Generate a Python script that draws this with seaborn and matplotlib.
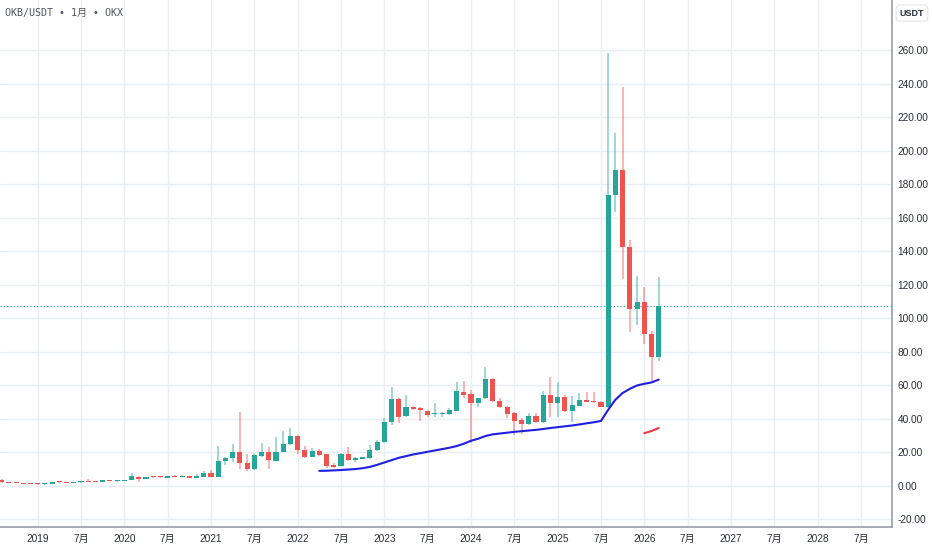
import numpy as np
import pandas as pd
import seaborn as sns
import matplotlib
import matplotlib.pyplot as plt
matplotlib.use('Agg')

# monthly candles, Aug 2018 .. Mar 2026 (month index 0 = Jan 2019)
months = list(range(-5, 87))
opens = [3.8, 2.2, 2.0, 1.6, 1.1, 0.95, 0.9, 1.0, 2.3, 2.1, 1.9, 2.1, 2.8, 2.5, 2.3, 3.3, 2.8,
         2.9, 3.5, 5.4, 4.2, 5.3, 5.2, 5.0, 5.8, 5.6, 6.0, 4.8, 5.6,
         7.6, 5.6, 15.0, 16.5, 20.5, 13.5, 10.1, 18.1, 20.5, 15.1, 20.5, 24.9,
         29.9, 21.5, 17.5, 21.1, 18.9, 12.5, 12.1, 18.9, 15.5, 16.1, 16.5, 21.5,
         26.1, 38.0, 51.7, 42.0, 47.4, 46.4, 44.8, 42.8, 43.0, 42.8, 45.0, 56.3,
         54.7, 49.4, 52.3, 63.7, 50.9, 47.4, 43.4, 39.4, 37.0, 41.8, 38.0, 54.3,
         49.4, 53.3, 45.0, 48.0, 51.3, 50.9, 50.3, 47.4, 173.7, 188.7, 142.9, 105.5,
         109.9, 90.7, 76.8]
highs = [3.9, 2.3, 2.1, 1.7, 1.2, 1.1, 1.1, 2.5, 2.8, 2.2, 2.2, 3.0, 4.2, 2.7, 3.4, 3.4, 3.0,
         3.6, 7.8, 6.2, 5.4, 5.6, 5.5, 6.0, 6.3, 6.3, 6.2, 7.0, 9.0,
         9.6, 23.7, 17.5, 24.9, 44.4, 18.9, 18.9, 25.5, 23.5, 29.1, 32.8, 34.4,
         30.5, 23.9, 22.9, 22.1, 19.3, 13.5, 19.7, 23.5, 17.5, 17.5, 24.5, 27.5,
         40.8, 58.9, 52.7, 54.3, 48.0, 47.4, 45.4, 49.4, 44.0, 46.4, 62.3, 62.7,
         57.3, 52.7, 71.2, 64.3, 52.3, 47.8, 44.4, 40.4, 43.8, 43.4, 56.9, 64.9,
         62.3, 54.3, 53.7, 55.7, 56.3, 56.3, 50.6, 258.7, 210.5, 238.0, 146.9, 125.4,
         119.0, 92.7, 124.6]
lows = [2.0, 1.9, 1.6, 1.0, 0.9, 0.85, 0.85, 0.9, 2.0, 1.8, 1.8, 2.0, 2.4, 2.3, 2.2, 2.7, 2.6,
        2.8, 3.4, 2.4, 4.0, 5.0, 5.0, 4.9, 5.5, 5.5, 4.6, 4.6, 5.4,
        5.2, 5.2, 12.5, 14.1, 10.1, 9.2, 9.5, 17.5, 10.0, 15.0, 20.1, 24.5,
        19.3, 16.5, 17.3, 18.1, 10.5, 10.5, 11.8, 14.9, 14.5, 15.9, 16.2, 21.0,
        25.5, 36.4, 37.8, 41.4, 45.4, 38.8, 41.4, 41.4, 41.0, 42.5, 44.8, 52.3,
        25.5, 47.4, 51.7, 50.3, 46.4, 40.4, 30.4, 31.0, 36.4, 37.6, 37.4, 41.4,
        41.4, 44.4, 38.4, 47.8, 49.9, 49.4, 47.0, 46.5, 163.8, 123.4, 92.1, 95.9,
        84.8, 61.3, 74.8]
closes = [2.2, 2.0, 1.7, 1.1, 0.95, 0.9, 1.0, 2.3, 2.1, 1.9, 2.1, 2.8, 2.5, 2.4, 3.3, 2.8, 2.9,
          3.5, 6.2, 4.2, 5.2, 5.1, 5.1, 5.8, 5.6, 6.1, 4.8, 5.8, 7.6,
          5.6, 15.1, 16.9, 20.5, 13.5, 10.1, 18.5, 20.5, 15.5, 20.5, 24.9, 29.9,
          21.5, 17.5, 21.1, 18.5, 12.1, 11.5, 18.9, 15.3, 16.5, 17.1, 21.5, 26.5,
          38.4, 51.7, 41.4, 47.4, 46.0, 45.2, 42.4, 43.2, 43.4, 45.4, 56.7, 54.3,
          49.4, 52.3, 63.9, 50.9, 47.0, 43.0, 39.0, 37.0, 41.8, 38.0, 54.3, 49.4,
          53.3, 45.0, 48.4, 51.3, 50.3, 49.9, 47.4, 173.7, 188.7, 142.9, 105.5, 109.9,
          90.7, 76.8, 107.5]

# moving averages
ma_blue_months = list(range(39, 87))
ma_blue = [9.0, 9.1, 9.3, 9.5, 9.8, 10.1, 10.6, 11.4, 12.6, 14.0, 15.4, 16.8, 17.8, 18.8,
           19.6, 20.4, 21.2, 22.0, 22.8, 23.8, 25.2, 27.0, 28.2, 29.8, 30.8, 31.3, 31.8,
           32.3, 32.7, 33.1, 33.5, 34.0, 34.6, 35.1, 35.6, 36.1, 36.7, 37.4, 38.0, 38.8,
           45.5, 51.5, 55.5, 58.0, 60.0, 61.0, 61.8, 63.5]
ma_red_months = [84, 85, 86]
ma_red = [31.5, 32.8, 34.6]
last_price = 107.5

tick_pos = list(range(0, 120, 6))
tick_labels = [str(2019 + p // 12) if p % 12 == 0 else '7月' for p in tick_pos]
price_ticks = list(range(-20, 261, 20))

UP = '#26a69a'
DOWN = '#ef5350'

sns.set_style('white')
plt.rcParams['font.family'] = ['Liberation Sans', 'Noto Sans CJK SC']

df = pd.DataFrame({'m': months, 'o': opens, 'h': highs, 'l': lows, 'c': closes})
df['up'] = df['c'] >= df['o']
colors = np.where(df['up'], UP, DOWN)

fig = plt.figure(figsize=(9.32, 5.5), dpi=100)
ax = fig.add_axes([0, 23 / 550, 892 / 932, 527 / 550])

ax.grid(True, color='#e9eef3', linewidth=1.0)
ax.set_axisbelow(True)

ax.vlines(df['m'], df['l'], df['h'], colors=colors, linewidth=1.1, alpha=0.55, zorder=2)
body = (df['c'] - df['o']).abs().clip(lower=0.6)
ax.bar(df['m'], body, bottom=df[['o', 'c']].min(axis=1), width=0.7,
       color=colors, linewidth=0, zorder=3)

sns.lineplot(x=ma_blue_months, y=ma_blue, ax=ax, color='#1f1fe0', linewidth=1.5, zorder=4)
sns.lineplot(x=ma_red_months, y=ma_red, ax=ax, color='#f23645', linewidth=1.5, zorder=4)

ax.axhline(last_price, color=UP, linestyle=(0, (1, 2)), linewidth=0.8, zorder=1)

ax.set_xlim(-5.22, 118.3)
ax.set_ylim(-24.5, 290.1)
ax.set_xticks(tick_pos)
ax.set_xticklabels(tick_labels)
ax.set_yticks(price_ticks)
ax.set_yticklabels([f'{v:.2f}' for v in price_ticks])
ax.yaxis.tick_right()
ax.tick_params(axis='both', length=0, labelsize=7.3, labelcolor='#2a2e39')
ax.tick_params(axis='y', pad=4)
ax.tick_params(axis='x', pad=5)

for side in ['top', 'left']:
    ax.spines[side].set_visible(False)
for side in ['right', 'bottom']:
    ax.spines[side].set_color('#9a9da6')
    ax.spines[side].set_linewidth(1.2)

fig.text(5 / 932, 1 - 13 / 550, 'OKB/USDT • 1月 • OKX', fontsize=7.2, color='#50535e',
         va='center', ha='left', family=['DejaVu Sans Mono', 'Noto Sans CJK SC'])
fig.text(912 / 932, 1 - 13 / 550, 'USDT', fontsize=6.5, color='#2a2e39', fontweight='bold',
         va='center', ha='center',
         bbox=dict(boxstyle='round,pad=0.4', facecolor='white', edgecolor='#e0e3eb', linewidth=0.8))

plt.savefig('out.png', dpi=100)
